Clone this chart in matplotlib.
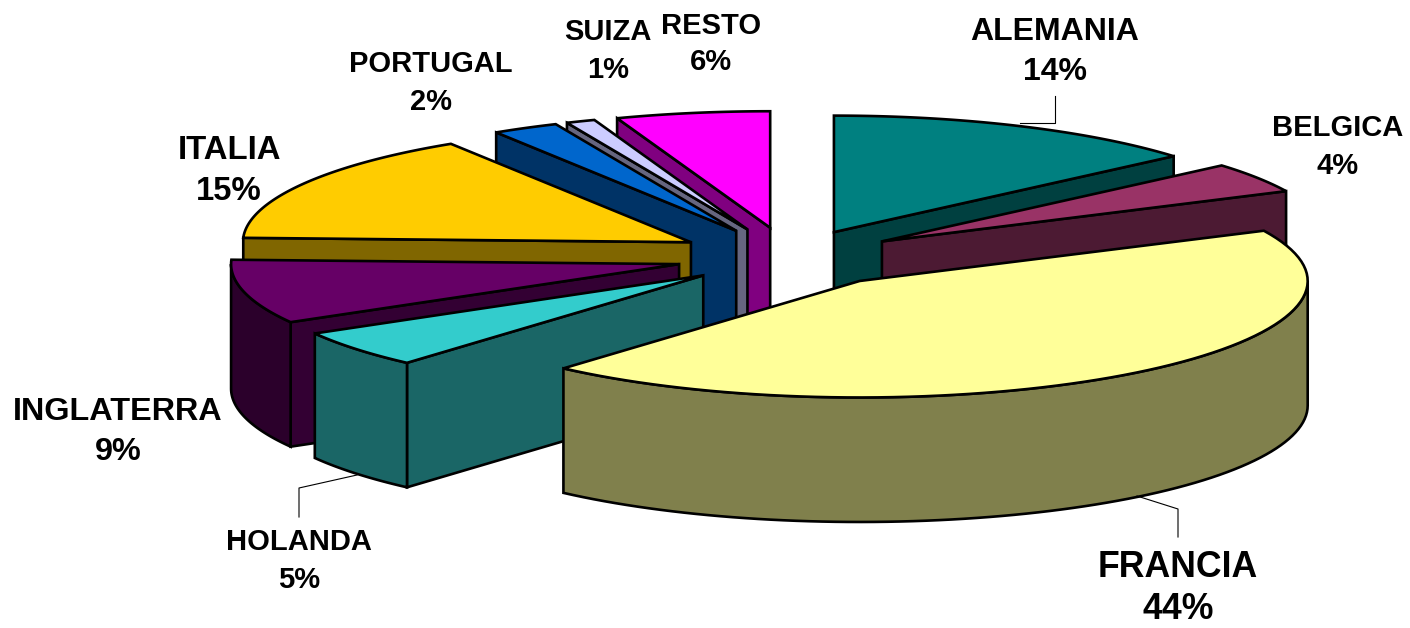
import numpy as np
import matplotlib
matplotlib.use('Agg')
import matplotlib.pyplot as plt

# ── data ─────────────────────────────────
countries = ['ALEMANIA', 'BELGICA', 'FRANCIA', 'HOLANDA', 'INGLATERRA',
             'ITALIA', 'PORTUGAL', 'SUIZA', 'RESTO']
shares = [13.7, 4.2, 43.6, 5.2, 8.9, 15.4, 2.4, 1.05, 5.55]

top_colors = ['#008080', '#993366', '#FFFF99', '#33CCCC', '#660066',
              '#FFCC00', '#0066CC', '#CCCCFF', '#FF00FF']
cut_colors = ['#004040', '#4C1A33', '#80804C', '#1A6666', '#330033',
              '#806600', '#003366', '#666680', '#800080']
wall_colors = ['#004040', '#4C1A33', '#80804C', '#1A6666', '#2B002B',
               '#806600', '#003366', '#666680', '#800080']

# label centres (x, name y, pct y) and font size
label_x = [1055, 1338, 1178, 299, 118, 229, 431, 608, 711]
name_y = [30, 126, 566, 541, 410, 149, 63, 31, 25]
pct_y = [70, 164, 608, 578, 450, 190, 100, 68, 61]
label_size = [23, 21, 25.7, 21, 23.3, 23.7, 21, 21, 21]

# leader lines for the labels that have one
leaders = [([1055, 1055, 1020], [96, 123, 123]),
           ([1178, 1178, 1137], [537, 509, 496]),
           ([299, 299, 357], [517, 488, 475])]

# ── pie geometry (pixels, y down) ────────
cx, cy = 790, 257
rx, ry = 448, 116.5
depth = 124.5
explode = [0.235, 0.245, 0.258, 0.25, 0.255, 0.255, 0.255, 0.255, 0.255]
draw_order = [8, 7, 6, 0, 1, 5, 4, 3, 2]

fractions = np.array(shares) / sum(shares)
edges = -90 + 360 * np.concatenate([[0], np.cumsum(fractions)])

fig = plt.figure(figsize=(14.1, 6.28), dpi=100)
ax = fig.add_axes([0, 0, 1, 1])
ax.set_xlim(0, 1410)
ax.set_ylim(628, 0)
ax.axis('off')

style = dict(edgecolor='black', linewidth=1.9, joinstyle='miter')


def rim(x0, y0, t1, t2):
    t = np.radians(np.linspace(t1, t2, 80))
    return x0 + rx * np.cos(t), y0 + ry * np.sin(t)


for i in draw_order:
    t1, t2 = edges[i], edges[i + 1]
    mid = np.radians((t1 + t2) / 2)
    x0 = cx + explode[i] * rx * np.cos(mid)
    y0 = cy + explode[i] * ry * np.sin(mid)

    # radial cut faces that point to the viewer
    for t in (t1, t2):
        visible = np.cos(np.radians(t)) < 0 if t == t1 else np.cos(np.radians(t)) > 0
        if visible:
            ex = x0 + rx * np.cos(np.radians(t))
            ey = y0 + ry * np.sin(np.radians(t))
            ax.fill([x0, ex, ex, x0], [y0, ey, ey + depth, y0 + depth],
                    facecolor=cut_colors[i], **style)

    # outer wall, only the front half of the rim
    w1, w2 = max(t1, 0), min(t2, 180)
    if w1 < w2:
        wx, wy = rim(x0, y0, w1, w2)
        ax.fill(np.r_[wx, wx[::-1]], np.r_[wy, wy[::-1] + depth],
                facecolor=wall_colors[i], **style)

    # top face
    tx, ty = rim(x0, y0, t1, t2)
    ax.fill(np.r_[x0, tx], np.r_[y0, ty], facecolor=top_colors[i], **style)

for lx, ly in leaders:
    ax.plot(lx, ly, color='black', lw=0.8)

for i, name in enumerate(countries):
    for y, txt in ((name_y[i], name), (pct_y[i], f'{shares[i]:.0f}%')):
        ax.text(label_x[i], y + 1.5, txt, ha='center', va='center', family='Liberation Sans',
                fontweight='bold', fontsize=label_size[i], color='black')

fig.savefig('out.png', dpi=100)
